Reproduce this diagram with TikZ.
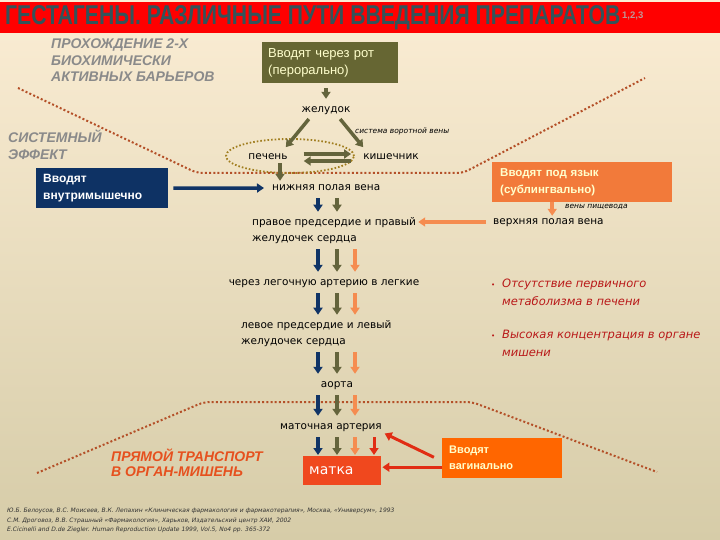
\documentclass[tikz,border=0pt]{standalone}
\usepackage{fontspec}
\usepackage{graphicx}
\setmainfont{DejaVu Sans}
\newfontfamily\arialfont{Liberation Sans}
\usetikzlibrary{arrows.meta}

\definecolor{bgtop}{RGB}{251,237,212}
\definecolor{bgmid}{RGB}{243,228,198}
\definecolor{bgbottom}{RGB}{214,204,168}
\definecolor{titlered}{RGB}{255,0,0}
\definecolor{titletext}{RGB}{50,84,90}
\definecolor{supgrey}{RGB}{190,150,150}
\definecolor{headgrey}{RGB}{138,138,138}
\definecolor{olivebox}{RGB}{102,102,51}
\definecolor{navybox}{RGB}{14,50,100}
\definecolor{orangebox}{RGB}{242,122,58}
\definecolor{vagbox}{RGB}{255,102,0}
\definecolor{uterusbox}{RGB}{240,72,30}
\definecolor{boxtext}{RGB}{255,255,204}
\definecolor{navyarrow}{RGB}{16,52,102}
\definecolor{olivearrow}{RGB}{100,100,60}
\definecolor{orangearrow}{RGB}{245,140,80}
\definecolor{redarrow}{RGB}{225,45,20}
\definecolor{borderline}{RGB}{180,80,40}
\definecolor{ringgold}{RGB}{160,125,30}
\definecolor{transport}{RGB}{230,80,30}
\definecolor{bulletred}{RGB}{185,25,25}
\definecolor{reftext}{RGB}{50,50,50}

\tikzset{%
  >={Triangle[width=9pt,length=7pt]},
  % boxes for the ways of giving the drug
            base/.style = {rectangle, anchor=north west, align=left,
                           inner ysep=0pt, text=boxtext,
                           font=\arialfont\fontsize{11.5}{17}\selectfont},
            oral/.style = {base, fill=olivebox, text width=124pt,
                           inner xsep=6pt, minimum height=41pt,
                           font=\arialfont\fontsize{13}{17}\selectfont},
          inject/.style = {base, fill=navybox, text=white, text width=118pt,
                           inner xsep=7pt, minimum height=40pt,
                           font=\arialfont\bfseries\fontsize{12}{17}\selectfont},
      sublingual/.style = {base, fill=orangebox, text width=164pt,
                           inner xsep=8pt, minimum height=40pt,
                           font=\arialfont\bfseries\fontsize{11.5}{17}\selectfont},
         vaginal/.style = {base, fill=vagbox, text width=106pt,
                           inner xsep=7pt, minimum height=40pt,
                           font=\arialfont\bfseries\fontsize{11}{16}\selectfont},
          target/.style = {base, fill=uterusbox, text=white, text width=66pt,
                           inner xsep=6pt, minimum height=29pt,
                           font=\fontsize{14}{16}\selectfont},
  % texts
           organ/.style = {inner sep=0pt, text height=7.5pt, text depth=2.5pt,
                           font=\fontsize{10.5}{16}\selectfont},
        organtwo/.style = {inner sep=0pt, align=left, anchor=west,
                           font=\fontsize{10.5}{16}\selectfont},
            note/.style = {inner sep=0pt, anchor=west,
                           font=\itshape\fontsize{7.5}{9}\selectfont},
          header/.style = {inner sep=0pt, align=left, anchor=north west,
                           text=headgrey,
                           font=\arialfont\bfseries\itshape\fontsize{14}{16.5}\selectfont},
          effect/.style = {header,
                           font=\arialfont\bfseries\itshape\fontsize{14}{17}\selectfont},
          direct/.style = {header, text=transport,
                           font=\arialfont\bfseries\itshape\fontsize{14}{15}\selectfont},
          bullet/.style = {inner sep=0pt, align=left, anchor=west, text=bulletred,
                           font=\itshape\fontsize{11.5}{18}\selectfont},
       reference/.style = {inner sep=0pt, align=left, anchor=north west, text=reftext,
                           font=\itshape\fontsize{6}{9.5}\selectfont},
  % connectors
            flow/.style = {line width=3.5pt, ->, shorten <=5pt, shorten >=6pt},
        navyflow/.style = {flow, draw=navyarrow},
       oliveflow/.style = {flow, draw=olivearrow},
      orangeflow/.style = {flow, draw=orangearrow},
         redflow/.style = {flow, draw=redarrow, line width=3pt},
          border/.style = {draw=borderline, line width=2pt,
                           dash pattern=on 2pt off 2.2pt, rounded corners=6pt},
            ring/.style = {draw=ringgold, line width=1.8pt,
                           dash pattern=on 1.6pt off 2pt},
}

\begin{document}
\begin{tikzpicture}[x=1pt, y=-1pt]
  \useasboundingbox (0,0) rectangle (720,540);
  \shade[top color=bgtop, middle color=bgmid, bottom color=bgbottom]
    (0,0) rectangle (720,540);
  \fill[titlered] (0,2) rectangle (720,33);

  % Title and side headings
  \node (title) [anchor=west, inner sep=0pt, text=titletext] at (5,17.5)
    {\resizebox{615pt}{19pt}{\arialfont\bfseries ГЕСТАГЕНЫ. РАЗЛИЧНЫЕ ПУТИ ВВЕДЕНИЯ ПРЕПАРАТОВ}};
  \node (titleref) [anchor=north west, inner sep=0pt, text=supgrey,
    font=\arialfont\bfseries\fontsize{9.5}{9.5}\selectfont] at (622,12) {1,2,3};
  \node (barriers) [header] at (51,39) {ПРОХОЖДЕНИЕ 2-Х\\БИОХИМИЧЕСКИ\\АКТИВНЫХ БАРЬЕРОВ};
  \node (systemic) [effect] at (8,130) {СИСТЕМНЫЙ\\ЭФФЕКТ};
  \node (straight) [direct] at (111,449) {ПРЯМОЙ ТРАНСПОРТ\\В ОРГАН-МИШЕНЬ};

  % Boundaries of the two barriers
  \draw[border] (18,88) -- (197,173) -- (463,173) -- (645,78);
  \draw[border] (37,473) -- (204,402) -- (472,402) -- (657,472);
  \draw[ring] (290,156) ellipse [x radius=64pt, y radius=17pt];

  % Ways of giving the drug
  \node (oral)    [oral]       at (262,42)  {Вводят через рот\\(перорально)};
  \node (im)      [inject]     at (36,168)  {Вводят\\внутримышечно};
  \node (subl)    [sublingual] at (492,162) {Вводят под язык\\(сублингвально)};
  \node (vag)     [vaginal]    at (442,438) {Вводят\\вагинально};
  \node (uterus)  [target]     at (303,456) {матка};

  % Path of the drug
  \node (stom)    [organ]      at (326,110) {желудок};
  \node (portal)  [note]       at (355,131) {система воротной вены};
  \node (liver)   [organ]      at (268,157) {печень};
  \node (gut)     [organ]      at (391,157) {кишечник};
  \node (ivc)     [organ, anchor=west] at (272,188) {нижняя полая вена};
  \node (esoph)   [note]       at (565,207) {вены пищевода};
  \node (svc)     [organ, anchor=west] at (493,222) {верхняя полая вена};
  \node (rheart)  [organtwo]   at (252,231) {правое предсердие и правый\\желудочек сердца};
  \node (lung)    [organ]      at (324,283) {через легочную артерию в легкие};
  \node (lheart)  [organtwo]   at (241,334) {левое предсердие и левый\\желудочек сердца};
  \node (aorta)   [organ]      at (337,385) {аорта};
  \node (uterart) [organ]      at (331,427) {маточная артерия};

  % Effects
  \node (nofirst)  [bullet] at (491,292)
    {\makebox[11pt][l]{\upshape\fontsize{7}{7}\selectfont•}Отсутствие первичного\\\hspace*{11pt}метаболизма в печени};
  \node (highconc) [bullet] at (491,343)
    {\makebox[11pt][l]{\upshape\fontsize{7}{7}\selectfont•}Высокая концентрация в органе\\\hspace*{11pt}мишени};

  % References
  \node (refs) [reference] at (7,508)
    {Ю.Б. Белоусов, В.С. Моисеев, В.К. Лепахин «Клиническая фармакология и фармакотерапия», Москва, «Универсум», 1993\\
     С.М. Дроговоз, В.В. Страшный «Фармакология», Харьков, Издательский центр ХАИ, 2002\\
     E.Cicinelli and D.de Ziegler. Human Reproduction Update 1999, Vol.5, No4 pp. 365-372};

  % Lanes of the parallel arrows
  \coordinate (navylane)   at (318,0);
  \coordinate (olivelane)  at (337,0);
  \coordinate (orangelane) at (355,0);
  \coordinate (redlane)    at (374,0);

  % Connectors
  \draw[oliveflow] (oral.south -| stom) -- (stom.north);
  \draw[oliveflow] ([xshift=-14pt]stom.south) -- ([xshift=14pt]liver.north);
  \draw[oliveflow] ([xshift=11pt]stom.south) -- ([xshift=-24pt]gut.north);
  \draw[oliveflow, shorten <=16pt, shorten >=12pt] ([yshift=3pt]liver.east) -- ([yshift=3pt]gut.west);
  \draw[oliveflow, shorten <=12pt, shorten >=16pt] ([yshift=-4pt]gut.west) -- ([yshift=-4pt]liver.east);
  \draw[oliveflow, shorten <=1pt, shorten >=2pt] ([xshift=12pt]liver.south) -- ([xshift=12pt]liver.south |- ivc.north);
  \draw[navyflow, shorten <=5pt, shorten >=8pt] (im.east) -- (ivc.west);
  \draw[orangeflow, shorten <=0pt, shorten >=1pt] ([xshift=-30pt]subl.south) -- ([xshift=-30pt]subl.south |- svc.north);
  \draw[orangeflow, shorten <=7pt, shorten >=2pt] (svc.west) -- (svc.west -| rheart.east);

  \draw[navyflow]   (navylane |- ivc.south)    -- (navylane |- rheart.north);
  \draw[oliveflow]  (olivelane |- ivc.south)   -- (olivelane |- rheart.north);

  \draw[navyflow]   (navylane |- rheart.south)   -- (navylane |- lung.north);
  \draw[oliveflow]  (olivelane |- rheart.south)  -- (olivelane |- lung.north);
  \draw[orangeflow] (orangelane |- rheart.south) -- (orangelane |- lung.north);

  \draw[navyflow]   (navylane |- lung.south)   -- (navylane |- lheart.north);
  \draw[oliveflow]  (olivelane |- lung.south)  -- (olivelane |- lheart.north);
  \draw[orangeflow] (orangelane |- lung.south) -- (orangelane |- lheart.north);

  \draw[navyflow]   (navylane |- lheart.south)   -- (navylane |- aorta.north);
  \draw[oliveflow]  (olivelane |- lheart.south)  -- (olivelane |- aorta.north);
  \draw[orangeflow] (orangelane |- lheart.south) -- (orangelane |- aorta.north);

  \draw[navyflow]   (navylane |- aorta.south)   -- (navylane |- uterart.north);
  \draw[oliveflow]  (olivelane |- aorta.south)  -- (olivelane |- uterart.north);
  \draw[orangeflow] (orangelane |- aorta.south) -- (orangelane |- uterart.north);

  \draw[navyflow, shorten >=1pt]   (navylane |- uterart.south)   -- (navylane |- uterus.north);
  \draw[oliveflow, shorten >=1pt]  (olivelane |- uterart.south)  -- (olivelane |- uterus.north);
  \draw[orangeflow, shorten >=1pt] (orangelane |- uterart.south) -- (orangelane |- uterus.north);
  \draw[redflow, shorten >=1pt]    (redlane |- uterart.south)    -- (redlane |- uterus.north);

  \draw[redflow, shorten <=0pt, shorten >=1pt] ([yshift=-9pt]vag.west) -- ([yshift=-9pt]vag.west -| uterus.east);
  \draw[redflow, shorten <=9pt, shorten >=3pt] ([yshift=-3pt]vag.west) -- (uterart.south east);
\end{tikzpicture}
\end{document}
